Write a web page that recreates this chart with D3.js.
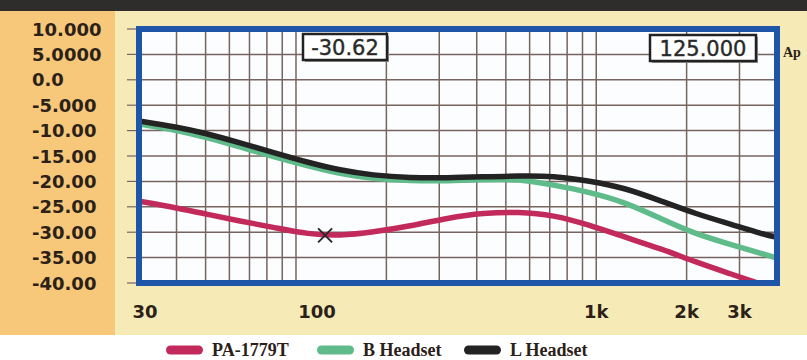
<!DOCTYPE html>
<html>
<head>
<meta charset="utf-8">
<script src="https://cdn.jsdelivr.net/npm/d3@7"></script>
<style>
  body { margin: 0; background: #fff; }
  svg { display: block; }
</style>
</head>
<body>
<div id="chart"></div>
<script>
// frequencies (Hz) shared by all three curves, roughly evenly spaced on the log axis
const freqs = [30, 40, 50, 65, 85, 110, 140, 180, 240, 320, 420, 550, 720, 950, 1250, 1650, 2150, 2800, 3600, 4000];
const paLevels = [-23.9, -25.2, -26.4, -27.8, -29.1, -30.4, -30.7, -30.0, -28.8, -27.2, -26.2, -26.0, -26.6, -28.6, -31.0, -33.3, -35.9, -38.2, -40.4, -41.2];
const bHeadset = [-8.7, -9.9, -11.3, -13.2, -15.2, -17.0, -18.5, -19.5, -19.9, -19.9, -19.7, -19.5, -20.7, -22.1, -24.1, -27.4, -30.4, -32.4, -34.3, -35.1];
const lHeadset = [-8.1, -9.3, -10.5, -12.4, -14.4, -16.3, -17.8, -18.8, -19.3, -19.3, -19.1, -18.9, -18.9, -19.9, -21.3, -23.9, -26.4, -28.4, -30.4, -31.0];

const seriesNames = ["PA-1779T", "B Headset", "L Headset"];
const seriesColors = ["#c22a5c", "#5fbb8a", "#232323"];

const yTicks = [10, 5, 0, -5, -10, -15, -20, -25, -30, -35, -40];
const yTickLabels = ["10.000", "5.0000", "0.0", "-5.000", "-10.00", "-15.00", "-20.00", "-25.00", "-30.00", "-35.00", "-40.00"];
const xTicks = [30, 100, 1000, 2000, 3000];
const xTickLabels = ["30", "100", "1k", "2k", "3k"];
const xGrid = [40, 50, 60, 70, 80, 90, 100, 200, 300, 400, 500, 600, 700, 800, 900, 1000, 2000, 3000];

const cursorFreq = 125;
const cursorLevel = -30.62;

const width = 807, height = 360;
const plotL = 139, plotR = 777, plotT = 29, plotB = 283;

const svg = d3.select("#chart").append("svg")
    .attr("width", width)
    .attr("height", height);

// backgrounds
svg.append("rect").attr("x", 0).attr("y", 0).attr("width", width).attr("height", height).attr("fill", "#fff");
svg.append("rect").attr("x", 0).attr("y", 10).attr("width", width).attr("height", 325).attr("fill", "#f6ebb6");
svg.append("rect").attr("x", 0).attr("y", 10).attr("width", 115).attr("height", 325).attr("fill", "#f8c87a");
svg.append("rect").attr("x", 0).attr("y", 0).attr("width", width).attr("height", 11).attr("fill", "#2e2d2b");

const x = d3.scaleLog().domain([30, 4000]).range([plotL, plotR]);
const y = d3.scaleLinear().domain([-40, 10]).range([plotB, plotT]);

svg.append("rect")
    .attr("x", plotL).attr("y", plotT)
    .attr("width", plotR - plotL).attr("height", plotB - plotT)
    .attr("fill", "#fcfdff");

// grid
const grid = svg.append("g").attr("stroke", "#76645f").attr("stroke-width", 1.5);
grid.selectAll("line.v").data(xGrid).enter().append("line")
    .attr("x1", d => x(d)).attr("x2", d => x(d))
    .attr("y1", plotT).attr("y2", plotB);
grid.selectAll("line.h").data(yTicks).enter().append("line")
    .attr("x1", plotL).attr("x2", plotR)
    .attr("y1", d => y(d)).attr("y2", d => y(d));
// small tick stubs outside the frame
grid.selectAll("line.t").data(yTicks).enter().append("line")
    .attr("x1", 127).attr("x2", plotL)
    .attr("y1", d => y(d)).attr("y2", d => y(d))
    .attr("stroke-width", 1.2);

// curves
svg.append("clipPath").attr("id", "plotclip")
    .append("rect").attr("x", plotL).attr("y", plotT)
    .attr("width", plotR - plotL).attr("height", plotB - plotT);

const line = d3.line()
    .x((d, i) => x(freqs[i]))
    .y(d => y(d))
    .curve(d3.curveBasis);

const allSeries = [paLevels, bHeadset, lHeadset];
// green under black, red last
const order = [1, 2, 0];
svg.append("g").attr("clip-path", "url(#plotclip)")
    .selectAll("path").data(order).enter().append("path")
    .attr("d", i => line(allSeries[i]))
    .attr("fill", "none")
    .attr("stroke", i => seriesColors[i])
    .attr("stroke-width", 5.5)
    .attr("stroke-linecap", "round");

// cursor marker
const cx = x(cursorFreq), cy = y(cursorLevel);
svg.append("path")
    .attr("d", `M${cx - 7},${cy - 7}L${cx + 7},${cy + 7}M${cx - 7},${cy + 7}L${cx + 7},${cy - 7}`)
    .attr("stroke", "#2a2a2a").attr("stroke-width", 2);

// frame
svg.append("rect")
    .attr("x", plotL).attr("y", plotT)
    .attr("width", plotR - plotL).attr("height", plotB - plotT)
    .attr("fill", "none")
    .attr("stroke", "#1f55a8")
    .attr("stroke-width", 6);

// y labels
svg.append("g").selectAll("text").data(yTicks).enter().append("text")
    .attr("x", 32)
    .attr("y", d => y(d) + 6.5)
    .attr("font-family", "DejaVu Sans, sans-serif")
    .attr("font-weight", "bold")
    .attr("font-size", 18)
    .attr("fill", "#2b2118")
    .text((d, i) => yTickLabels[i]);

// x labels (the printed labels sit a bit right of their grid lines at the low end)
const xLabelShift = [6, 21, 0, 0, 0];
svg.append("g").selectAll("text").data(xTicks).enter().append("text")
    .attr("x", (d, i) => x(d) + xLabelShift[i])
    .attr("y", 318)
    .attr("text-anchor", "middle")
    .attr("font-family", "DejaVu Sans, sans-serif")
    .attr("font-weight", "bold")
    .attr("font-size", 18)
    .attr("fill", "#2b2118")
    .text((d, i) => xTickLabels[i]);

// readout boxes
function readout(bx, by, w, h, txt) {
    svg.append("rect").attr("x", bx + 2).attr("y", by + 2).attr("width", w).attr("height", h)
        .attr("fill", "#9a9a9a");
    svg.append("rect").attr("x", bx).attr("y", by).attr("width", w).attr("height", h)
        .attr("fill", "#fff").attr("stroke", "#222").attr("stroke-width", 2.5);
    svg.append("text").attr("x", bx + w / 2).attr("y", by + h / 2 + 7.5)
        .attr("text-anchor", "middle")
        .attr("font-family", "DejaVu Sans, sans-serif")
        .attr("font-size", 21)
        .attr("fill", "#2a2a2a")
        .attr("stroke", "#2a2a2a")
        .attr("stroke-width", 0.4)
        .text(txt);
}
readout(303, 34, 84, 26, cursorLevel.toFixed(2));
readout(650, 35, 106, 26, cursorFreq.toFixed(3));

svg.append("text").attr("x", 783).attr("y", 57)
    .attr("font-family", "Liberation Serif, serif")
    .attr("font-weight", "bold")
    .attr("font-size", 14)
    .attr("fill", "#2b2118")
    .text("Ap");

// legend
const legendX = [166, 317, 464];
const lg = svg.append("g").selectAll("g").data(seriesNames).enter().append("g")
    .attr("transform", (d, i) => `translate(${legendX[i]},350)`);
lg.append("rect")
    .attr("x", 0).attr("y", -4.5).attr("width", 37).attr("height", 9).attr("rx", 4.5)
    .attr("fill", (d, i) => seriesColors[i]);
lg.append("text")
    .attr("x", 46).attr("y", 6)
    .attr("font-family", "Liberation Serif, serif")
    .attr("font-weight", "bold")
    .attr("font-size", 18)
    .attr("fill", "#2b2118")
    .text(d => d);
</script>
</body>
</html>
